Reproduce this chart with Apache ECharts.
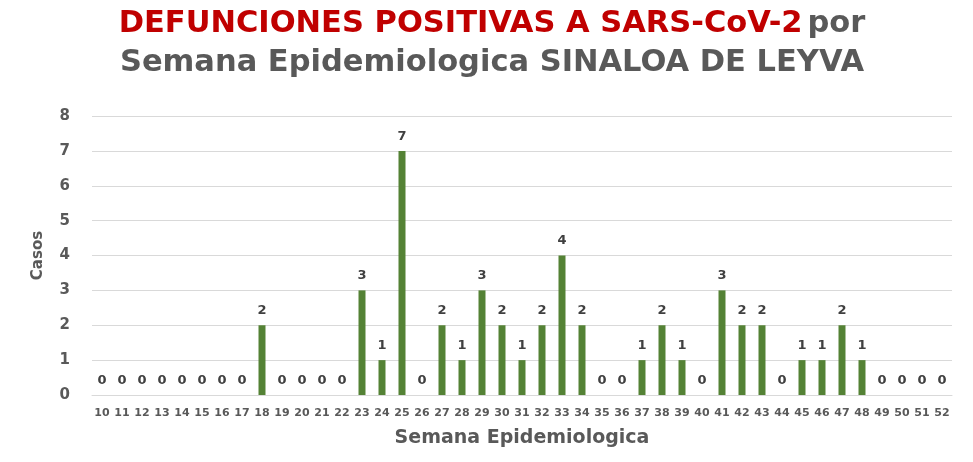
<!DOCTYPE html>
<html>
<head>
<meta charset="utf-8">
<script src="https://cdn.jsdelivr.net/npm/echarts@6/dist/echarts.min.js"></script>
<style>
  html, body { margin: 0; padding: 0; background: #ffffff; }
  #chart { width: 973px; height: 462px; }
</style>
</head>
<body>
<div id="chart"></div>
<script>
// Epidemiological weeks 10..52
const semanas = ['10','11','12','13','14','15','16','17','18','19','20','21','22','23','24','25','26','27','28','29','30','31','32','33','34','35','36','37','38','39','40','41','42','43','44','45','46','47','48','49','50','51','52'];
// Deaths per week
const casos = [0,0,0,0,0,0,0,0,2,0,0,0,0,3,1,7,0,2,1,3,2,1,2,4,2,0,0,1,2,1,0,3,2,2,0,1,1,2,1,0,0,0,0];
const yTicks = [0,1,2,3,4,5,6,7,8];

const FONT = 'DejaVu Sans, Verdana, sans-serif';

const chart = echarts.init(document.getElementById('chart'));
chart.setOption({
  animation: false,
  backgroundColor: '#ffffff',
  title: {
    left: 487,
    textAlign: 'center',
    top: 0,
    text: '{r|DEFUNCIONES POSITIVAS A SARS-CoV-2} {g|por}\n{g|Semana Epidemiologica SINALOA DE LEYVA}',
    textStyle: {
      rich: {
        r: { color: '#c00000', fontSize: 30.5, fontWeight: 'bold', fontFamily: FONT, lineHeight: 39 },
        g: { color: '#595959', fontSize: 30.5, fontWeight: 'bold', fontFamily: FONT, lineHeight: 39 }
      }
    }
  },
  grid: { left: 92, right: 21, top: 116, bottom: 67, containLabel: false },
  xAxis: {
    type: 'category',
    data: semanas,
    name: 'Semana Epidemiologica',
    nameLocation: 'middle',
    nameGap: 34,
    nameTextStyle: { color: '#595959', fontSize: 19, fontWeight: 'bold', fontFamily: FONT },
    axisLine: { show: true, lineStyle: { color: '#d9d9d9' } },
    axisTick: { show: false },
    axisLabel: { color: '#595959', fontSize: 11, fontWeight: 'bold', fontFamily: FONT, margin: 13, interval: 0 }
  },
  yAxis: {
    type: 'value',
    min: 0,
    max: yTicks[yTicks.length - 1],
    interval: 1,
    name: 'Casos',
    nameLocation: 'middle',
    nameGap: 46,
    nameRotate: 90,
    nameTextStyle: { color: '#595959', fontSize: 15, fontWeight: 'bold', fontFamily: FONT },
    axisLine: { show: false },
    axisTick: { show: false },
    splitLine: { lineStyle: { color: '#d9d9d9', width: 1 } },
    axisLabel: { color: '#595959', fontSize: 15, fontWeight: 'bold', fontFamily: FONT, margin: 22 }
  },
  series: [{
    type: 'bar',
    data: casos,
    barWidth: 7,
    itemStyle: { color: '#548235' },
    label: {
      show: true,
      position: 'top',
      distance: 8,
      color: '#404040',
      fontSize: 13,
      fontWeight: 'bold',
      fontFamily: FONT
    }
  }]
});
</script>
</body>
</html>
